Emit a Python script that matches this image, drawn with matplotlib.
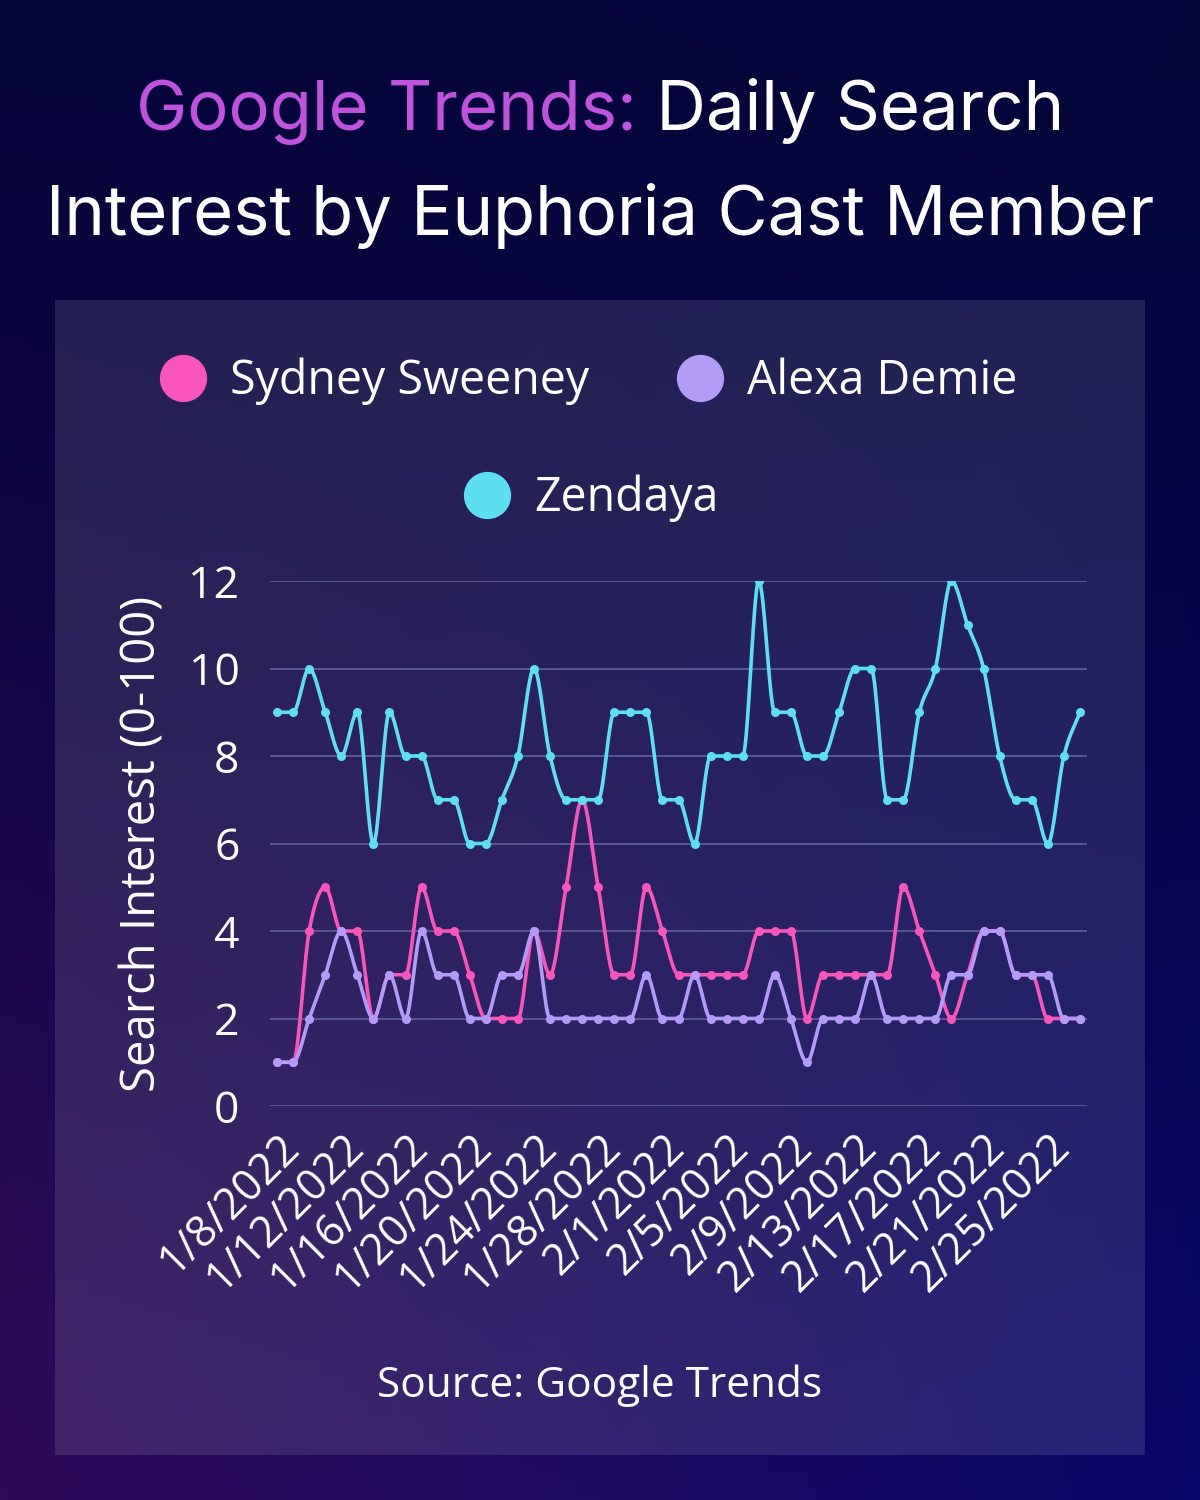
import numpy as np
import pandas as pd
import matplotlib
matplotlib.use("Agg")
import matplotlib.pyplot as plt
from matplotlib.patches import Rectangle

# data (daily, 1/8/2022 - 2/27/2022)
dates = pd.date_range("2022-01-08", "2022-02-27", freq="D")
date_labels = [f"{d.month}/{d.day}/{d.year}" for d in dates]

sydney = [1, 1, 4, 5, 4, 4, 2, 3, 3, 5, 4, 4, 3, 2, 2, 2, 4,
          3, 5, 7, 5, 3, 3, 5, 4, 3, 3, 3, 3, 3, 4, 4, 4,
          2, 3, 3, 3, 3, 3, 5, 4, 3, 2, 3, 4, 4, 3, 3, 2, 2, 2]
alexa = [1, 1, 2, 3, 4, 3, 2, 3, 2, 4, 3, 3, 2, 2, 3, 3, 4,
         2, 2, 2, 2, 2, 2, 3, 2, 2, 3, 2, 2, 2, 2, 3, 2,
         1, 2, 2, 2, 3, 2, 2, 2, 2, 3, 3, 4, 4, 3, 3, 3, 2, 2]
zendaya = [9, 9, 10, 9, 8, 9, 6, 9, 8, 8, 7, 7, 6, 6, 7, 8, 10,
           8, 7, 7, 7, 9, 9, 9, 7, 7, 6, 8, 8, 8, 12, 9, 9,
           8, 8, 9, 10, 10, 7, 7, 9, 10, 12, 11, 10, 8, 7, 7, 6, 8, 9]

series = [("Sydney Sweeney", sydney, "#fa55b9"),
          ("Alexa Demie", alexa, "#b39cf6"),
          ("Zendaya", zendaya, "#5de0ee")]

font = "Open Sans"
W, H = 1200, 1500


def monotone(x, y, n=20):
    # Fritsch-Carlson monotone cubic, only used to draw the smooth line
    x = np.asarray(x, float)
    y = np.asarray(y, float)
    h = np.diff(x)
    d = np.diff(y) / h
    m = np.zeros_like(y)
    m[0], m[-1] = d[0], d[-1]
    for i in range(1, len(y) - 1):
        if d[i - 1] * d[i] <= 0:
            m[i] = 0
        else:
            m[i] = (d[i - 1] + d[i]) / 2
    for i in range(len(d)):
        if d[i] == 0:
            m[i] = m[i + 1] = 0
        else:
            a, b = m[i] / d[i], m[i + 1] / d[i]
            s = a * a + b * b
            if s > 9:
                t = 3 / np.sqrt(s)
                m[i] = t * a * d[i]
                m[i + 1] = t * b * d[i]
    xs, ys = [], []
    for i in range(len(d)):
        t = np.linspace(0, 1, n, endpoint=False)
        h00 = 2 * t**3 - 3 * t**2 + 1
        h10 = t**3 - 2 * t**2 + t
        h01 = -2 * t**3 + 3 * t**2
        h11 = t**3 - t**2
        xs.append(x[i] + t * h[i])
        ys.append(h00 * y[i] + h10 * h[i] * m[i] + h01 * y[i + 1] + h11 * h[i] * m[i + 1])
    xs.append([x[-1]])
    ys.append([y[-1]])
    return np.concatenate(xs), np.concatenate(ys)


fig = plt.figure(figsize=(W / 100, H / 100), dpi=100)

# background gradient
bg = fig.add_axes([0, 0, 1, 1])
bg.set_axis_off()
tl = np.array([0x06, 0x05, 0x3a]) / 255
tr = np.array([0x04, 0x06, 0x3a]) / 255
bl = np.array([0x30, 0x0a, 0x58]) / 255
br = np.array([0x0a, 0x08, 0x6a]) / 255
yy, xx = np.mgrid[0:1:150j, 0:1:120j]
yy = yy[..., None] ** 1.3
xx = xx[..., None]
img = (1 - yy) * ((1 - xx) * tl + xx * tr) + yy * ((1 - xx) * bl + xx * br)
bg.imshow(img, extent=[0, W, H, 0], aspect="auto")
bg.set_xlim(0, W)
bg.set_ylim(H, 0)

# panel
bg.add_patch(Rectangle((55, 300), 1090, 1155, facecolor="white", alpha=0.11, lw=0))

# title
r = fig.canvas.get_renderer()
t1 = bg.text(0, 0, "Google Trends:", fontsize=49.5, family="Inter", color="#c052dc")
t2 = bg.text(0, 0, " Daily Search", fontsize=49.5, family="Inter", color="white")
w1 = t1.get_window_extent(r).width
w2 = t2.get_window_extent(r).width
x0 = W / 2 - (w1 + w2) / 2
t1.set_position((x0, 130))
t2.set_position((x0 + w1, 130))
bg.text(W / 2, 235, "Interest by Euphoria Cast Member", fontsize=49.5, family="Inter",
        color="white", ha="center")

# legend
leg = [(183, 378), (700, 378), (487, 495)]
for (name, vals, col), (lx, ly) in zip(series, leg):
    bg.plot(lx, ly, "o", ms=34, color=col, mec="none")
    bg.text(lx + 47, ly + 3, name, fontsize=33.5, family=font, color="white", va="center")

bg.text(W / 2, 1386, "Source: Google Trends", fontsize=30.5, family=font, color="white",
        ha="center", va="center")

# chart
ax = fig.add_axes([270 / W, 1 - 1106 / H, (1087 - 270) / W, (1106 - 581) / H])
ax.patch.set_alpha(0)
x = np.arange(len(dates))
for name, vals, col in series:
    sx, sy = monotone(x, vals)
    ax.plot(sx, sy, color=col, lw=2.6, solid_capstyle="round", zorder=3)
    ax.plot(x, vals, "o", color=col, ms=6.5, mec="none", zorder=4)

ax.set_xlim(-0.44, len(dates) - 1 + 0.44)
ax.set_ylim(0, 12)
ax.set_yticks(range(0, 13, 2))
ax.grid(axis="y", color="#5a5890", lw=1.4)
ax.set_axisbelow(True)
for s in ax.spines.values():
    s.set_visible(False)
ax.tick_params(length=0, colors="white", labelsize=32, pad=22)
for lab in ax.get_yticklabels():
    lab.set_family(font)
ticks = x[::4]
ax.set_xticks(ticks)
ax.set_xticklabels([date_labels[i] for i in ticks], rotation=45, ha="right",
                   rotation_mode="anchor", family=font, fontsize=31)
ax.tick_params(axis="x", pad=14)
ax.set_ylabel("Search Interest (0-100)", fontsize=34, family=font, color="white", labelpad=16)

fig.savefig("out.png", dpi=100)
